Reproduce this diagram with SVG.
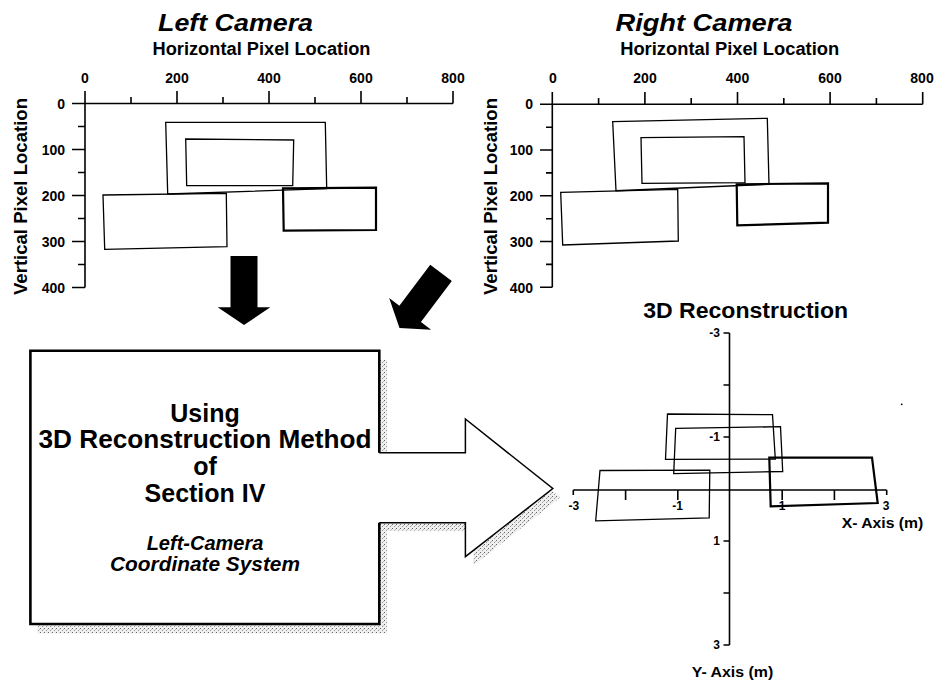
<svg xmlns="http://www.w3.org/2000/svg" width="938" height="681" viewBox="0 0 938 681">
<defs>
<style>
text{font-family:"Liberation Sans",Arial,sans-serif;font-weight:bold;fill:#000}
.ttl{font-size:23px;font-style:italic;text-anchor:middle}
.axt{font-size:18px;text-anchor:middle}
.tk{font-size:14px;text-anchor:middle}
.tky{font-size:14px;text-anchor:end}
.s{font-size:12px;text-anchor:middle}
.sy{font-size:12px;text-anchor:end}
.ax{stroke:#000;stroke-width:1.6;fill:none}
.r1{stroke:#000;stroke-width:1.3;fill:none}
.r2{stroke:#000;stroke-width:2.2;fill:none}
.box{font-size:25px;text-anchor:middle}
.boxi{font-size:20px;font-style:italic;text-anchor:middle}
</style>
<pattern id="stip" width="4" height="4" patternUnits="userSpaceOnUse">
<rect width="4" height="4" fill="#efefef"/>
<rect x="0" y="0" width="1" height="1" fill="#666"/>
<rect x="2" y="2" width="1" height="1" fill="#999"/>
<rect x="3" y="1" width="1" height="1" fill="#bbb"/>
</pattern>
<path id="blk" d="M-13.5,-69 L13.5,-69 L13.5,-17.7 L26.3,-17.7 L0,0 L-26.3,-17.7 L-13.5,-17.7 Z" fill="#000"/>
</defs>
<rect width="938" height="681" fill="#fff"/>

<g id="left-camera">
<text class="ttl" x="235.5" y="30.5" textLength="155" lengthAdjust="spacingAndGlyphs">Left Camera</text>
<text class="axt" x="261.5" y="55" textLength="218" lengthAdjust="spacingAndGlyphs">Horizontal Pixel Location</text>
<text class="axt" transform="translate(26.5,196.5) rotate(-90)" textLength="197" lengthAdjust="spacingAndGlyphs">Vertical Pixel Location</text>
<path class="ax" d="M72,103.5 H453 M85,91 V287.5 M131,97 V103.5 M177,91 V103.5 M223,97 V103.5 M269,91 V103.5 M315,97 V103.5 M361,91 V103.5 M407,97 V103.5 M453,91 V103.5 M78,126.5 H85 M72,149.5 H85 M78,172.5 H85 M72,195.5 H85 M78,218.5 H85 M72,241.5 H85 M78,264.5 H85 M72,287.5 H85"/>
<text class="tk" x="85" y="82.5">0</text>
<text class="tk" x="177" y="82.5">200</text>
<text class="tk" x="269" y="82.5">400</text>
<text class="tk" x="361" y="82.5">600</text>
<text class="tk" x="453" y="82.5">800</text>
<text class="tky" x="65" y="108.5">0</text>
<text class="tky" x="65" y="154.5">100</text>
<text class="tky" x="65" y="200.5">200</text>
<text class="tky" x="65" y="246.5">300</text>
<text class="tky" x="65" y="292.5">400</text>
<polygon class="r1" points="165.7,122.3 325.3,122.3 326.7,188.7 167.7,194"/>
<polygon class="r1" points="185.7,139 293.7,140 292.7,185.7 186.7,185.7"/>
<polygon class="r1" points="103,195 226.3,193.3 227,246.7 104.7,249.3"/>
<polygon class="r2" points="283,188.3 376,187.7 376,230 283.7,230.7"/>
</g>

<g id="right-camera">
<text class="ttl" x="704" y="30.5" textLength="177" lengthAdjust="spacingAndGlyphs">Right Camera</text>
<text class="axt" x="729.7" y="55" textLength="219" lengthAdjust="spacingAndGlyphs">Horizontal Pixel Location</text>
<text class="axt" transform="translate(496.5,196.5) rotate(-90)" textLength="197" lengthAdjust="spacingAndGlyphs">Vertical Pixel Location</text>
<path class="ax" d="M540,104.3 H922.7 M552.3,92 V287.3 M598.6,98 V104.3 M644.9,92 V104.3 M691.2,98 V104.3 M737.5,92 V104.3 M783.8,98 V104.3 M830.1,92 V104.3 M876.4,98 V104.3 M922.7,92 V104.3 M546,127.2 H552.3 M540,150 H552.3 M546,172.9 H552.3 M540,195.8 H552.3 M546,218.7 H552.3 M540,241.5 H552.3 M546,264.4 H552.3 M540,287.3 H552.3"/>
<text class="tk" x="553" y="82.5">0</text>
<text class="tk" x="645" y="82.5">200</text>
<text class="tk" x="737.5" y="82.5">400</text>
<text class="tk" x="830" y="82.5">600</text>
<text class="tk" x="922" y="82.5">800</text>
<text class="tky" x="533" y="109">0</text>
<text class="tky" x="533" y="155">100</text>
<text class="tky" x="533" y="201">200</text>
<text class="tky" x="533" y="246.5">300</text>
<text class="tky" x="533" y="292.5">400</text>
<polygon class="r1" points="612.7,121.7 767.3,118.3 769,184.3 616,190.7"/>
<polygon class="r1" points="641,137.7 744,136.7 745,182.7 642,183.3"/>
<polygon class="r1" points="560.7,192.3 677.7,189.3 678.3,241 562.7,245"/>
<polygon class="r2" points="736.7,184.3 828,183.3 828,222.7 737.3,225.3"/>
</g>

<g id="method-box">
<polygon fill="url(#stip)" points="37.4,359.7 387,359.7 387,461.7 473,461.7 473,428 560.5,497.3 473,565.7 473,530.7 387,530.7 387,633.3 37.4,633.3"/>
<polygon fill="#fff" points="30.4,350.7 379.3,350.7 379.3,452.7 465.4,452.7 465.4,419 552.8,488.5 465.4,556.7 465.4,522.7 379.3,522.7 379.3,624 30.4,624"/>
<path d="M379.3,452.7 V350.7 H30.4 V624 H379.3 V522.7" fill="none" stroke="#000" stroke-width="2.6"/>
<path d="M379.3,452.7 H465.4 V419 L552.8,488.5 L465.4,556.7 V522.7 H379.3" fill="none" stroke="#000" stroke-width="1.5"/>
<text class="box" x="205" y="421.7">Using</text>
<text class="box" x="205" y="448.3" textLength="333" lengthAdjust="spacingAndGlyphs">3D Reconstruction Method</text>
<text class="box" x="205" y="475">of</text>
<text class="box" x="205" y="501.7">Section IV</text>
<text class="boxi" x="205" y="550">Left-Camera</text>
<text class="boxi" x="205" y="571" textLength="190" lengthAdjust="spacingAndGlyphs">Coordinate System</text>
</g>

<g id="reconstruction-3d">
<text x="745.7" y="318" style="font-size:22px;text-anchor:middle" textLength="205" lengthAdjust="spacingAndGlyphs">3D Reconstruction</text>
<path class="ax" d="M729.5,333 V645 M723.5,333 H729.5 M723.5,385 H729.5 M723.5,437 H729.5 M723.5,541 H729.5 M723.5,593 H729.5 M723.5,645 H729.5 M573.3,490 H886.7 M573.3,490 V495 M625.6,490 V500 M677.8,490 V500 M782.2,490 V500 M834.4,490 V500 M886.7,490 V495"/>
<text class="sy" x="720" y="337">-3</text>
<text class="sy" x="720" y="441">-1</text>
<text class="sy" x="720" y="545">1</text>
<text class="sy" x="720" y="649">3</text>
<text class="s" x="573.8" y="510">-3</text>
<text class="s" x="677.5" y="510">-1</text>
<text class="s" x="782" y="510">1</text>
<text class="s" x="886" y="510">3</text>
<text x="882.5" y="527.5" style="font-size:15px;text-anchor:middle" textLength="81.6" lengthAdjust="spacingAndGlyphs">X- Axis (m)</text>
<text x="732.5" y="676.5" style="font-size:15px;text-anchor:middle" textLength="81.6" lengthAdjust="spacingAndGlyphs">Y- Axis (m)</text>
<polygon class="r1" points="667.5,414 772.5,414.7 775.3,459 665.5,459.3"/>
<polygon class="r1" points="675.7,428.3 780.5,426.7 782.7,471.5 673.7,473.7"/>
<polygon class="r1" points="600,470.5 709.8,470.2 709.2,517.8 595.7,520.8"/>
<polygon class="r2" points="769.3,457.7 872,457.7 877.7,503 770.7,506.3"/>
<circle cx="901.7" cy="404.3" r="0.9" fill="#000"/>
</g>

<g id="connectors">
<use href="#blk" transform="translate(244,325)"/>
<use href="#blk" transform="translate(399.5,328) rotate(37)"/>
</g>
</svg>
